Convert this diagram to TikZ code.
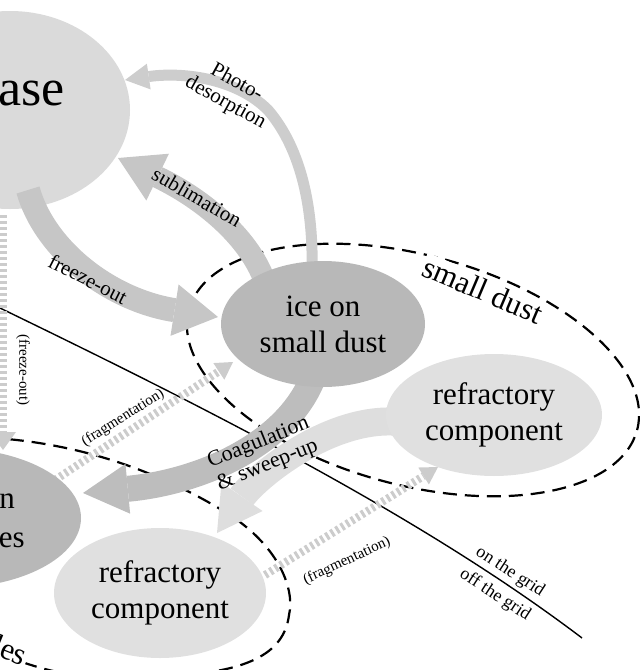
\documentclass[tikz,border=0pt]{standalone}
\usepackage{fontspec}
\setmainfont{Liberation Serif}
\usetikzlibrary{shapes.geometric,arrows.meta}
\definecolor{gasc}{HTML}{DADADA}
\definecolor{icec}{HTML}{B8B8B8}
\definecolor{refc}{HTML}{E0E0E0}
\definecolor{bandc}{HTML}{C6C6C6}
\definecolor{photoc}{HTML}{CDCDCD}
\definecolor{coagc}{HTML}{BDBDBD}
\definecolor{rcoagc}{HTML}{DEDEDE}
\definecolor{fragc}{HTML}{CCCCCC}
\begin{document}
\begin{tikzpicture}[x=1pt,y=-1pt,
  blob/.style={ellipse, inner sep=0pt, align=center, font=\fontsize{31}{36}\selectfont},
  bigtxt/.style={inner sep=0pt, font=\fontsize{31}{36}\selectfont},
  lbl/.style={inner sep=0pt, font=\fontsize{21}{23}\selectfont},
  smalllbl/.style={inner sep=0pt, font=\fontsize{15}{17}\selectfont},
  gridlbl/.style={inner sep=0pt, font=\fontsize{18}{20}\selectfont},
  dustlbl/.style={inner sep=2pt, fill=white, font=\fontsize{31}{36}\selectfont},
  dustline/.style={draw=black, line width=2.2pt, dash pattern=on 14pt off 8pt},
  frag/.style={draw=fragc, line width=8pt, dash pattern=on 3pt off 3pt, -{Triangle[width=20pt,length=17pt,line width=0pt]}},
  bigtip/.style={-{Triangle[width=52pt,length=44pt,line width=0pt]}}
]
\useasboundingbox (0,0) rectangle (640,670);
\clip (0,0) rectangle (640,670);

% gas phase
\node[blob, fill=gasc, minimum width=240pt, minimum height=198pt] (gas) at (10,110) {};

% grid line
\coordinate (g1) at (0,308);
\coordinate (g2) at (582,638);
\draw[line width=1.4pt] (g1) .. controls (200,405) and (420,515) .. (g2);

% dashed regions
\coordinate (sdc) at (413,370);
\draw[dustline, rotate around={-15:(sdc)}] (sdc) ellipse [x radius=232pt, y radius=115pt];
\coordinate (lp1) at (-100,440);
\coordinate (lp2) at (-10,648);
\draw[dustline] (lp1) .. controls (40,425) and (150,465) .. (230,515)
  .. controls (280,548) and (295,590) .. (289,615)
  .. controls (284,655) and (245,672) .. (170,676)
  .. controls (100,684) and (40,674) .. (lp2);

% dotted arrows
\coordinate (fa1) at (55,480);  \coordinate (fa2) at (233,362);
\coordinate (fb1) at (265,575); \coordinate (fb2) at (438,467);
\coordinate (fc1) at (3,215);   \coordinate (fc2) at (3,450);
\draw[frag] (fa1) -- (fa2);
\draw[frag] (fb1) -- (fb2);
\draw[frag, -{Triangle[width=26pt,length=18pt,line width=0pt]}] (fc1) -- (fc2);

% bands
\coordinate (ph1) at (312,275); \coordinate (ph2) at (268,110); \coordinate (ph3) at (125,80);
\draw[draw=photoc, line width=11pt, -{Triangle[width=26pt,length=24pt,line width=0pt]}]
  (ph1) .. controls (314,200) and (298,145) .. (ph2) .. controls (235,77) and (180,72) .. (ph3);
\coordinate (su1) at (266,285); \coordinate (su2) at (118,158);
\draw[draw=bandc, line width=22pt, bigtip] (su1) .. controls (252,240) and (205,200) .. (su2);
\coordinate (fr1) at (28,190); \coordinate (fr2) at (218,317);
\draw[draw=bandc, line width=24pt, bigtip] (fr1) .. controls (45,250) and (110,300) .. (fr2);
\coordinate (rc1) at (400,422); \coordinate (rc2) at (217,533);
\draw[draw=rcoagc, line width=28pt, -{Triangle[width=50pt,length=44pt,line width=0pt]}]
  (rc1) .. controls (330,415) and (255,478) .. (rc2);
\coordinate (co1) at (312,380); \coordinate (co2) at (83,493);
\draw[draw=coagc, line width=26pt, -{Triangle[width=50pt,length=45pt,line width=0pt]}]
  (co1) .. controls (285,445) and (200,482) .. (co2);

% blobs
\node[blob, fill=icec, minimum width=204pt, minimum height=126pt] (ice) at (323,324) {ice on\\small dust};
\node[blob, fill=refc, minimum width=216pt, minimum height=122pt] (refs) at (494,415) {refractory\\component};
\node[blob, fill=refc, minimum width=212pt, minimum height=130pt] (refl) at (160,593) {refractory\\component};
\node[blob, fill=icec, minimum width=262pt, minimum height=140pt] (icel) at (-50,518) {};

% texts
\node[inner sep=0pt, font=\fontsize{52}{60}\selectfont, anchor=base east] (gastxt) at (65,105) {ase};
\node[bigtxt, anchor=base east] (icel1) at (15,508) {n};
\node[bigtxt, anchor=base east] (icel2) at (25,547) {es};
\node[lbl, rotate=-29, align=center, font=\fontsize{21}{23}\selectfont] (tphoto) at (231,93) {Photo-\\desorption};
\node[lbl, rotate=-30] (tsub) at (197,197) {sublimation};
\node[lbl, rotate=-27] (tfr) at (88,279) {freeze-out};
\node[lbl, rotate=22, align=center, font=\fontsize{22}{24}\selectfont] (tcoag) at (263,454) {Coagulation\\\& sweep-up};
\node[smalllbl, rotate=32] (tfa) at (123,418) {(fragmentation)};
\node[smalllbl, rotate=25] (tfb) at (347,561) {(fragmentation)};
\node[smalllbl, rotate=-90] (tfc) at (23,370) {(freeze-out)};
\node[gridlbl, rotate=-33] (ton) at (510,572) {on the grid};
\node[gridlbl, rotate=-33] (toff) at (495,595) {off the grid};
\node[dustlbl, rotate=-23] (tsd) at (483,290) {small dust};
\node[dustlbl, rotate=-22] (tlp) at (10,650) {les};
\end{tikzpicture}
\end{document}
